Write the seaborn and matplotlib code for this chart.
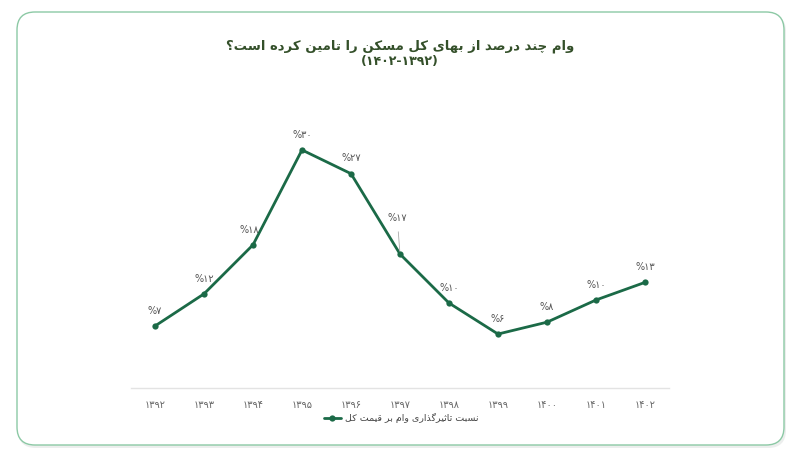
import matplotlib
matplotlib.use("Agg")
import matplotlib.pyplot as plt
import seaborn as sns
import pandas as pd
from matplotlib.patches import FancyBboxPatch

# ---------------- data ----------------
years = ["۱۳۹۲", "۱۳۹۳", "۱۳۹۴", "۱۳۹۵", "۱۳۹۶", "۱۳۹۷", "۱۳۹۸", "۱۳۹۹", "۱۴۰۰", "۱۴۰۱", "۱۴۰۲"]
values = [7.0, 11.2, 17.6, 30.0, 26.9, 16.4, 10.0, 5.95, 7.5, 10.4, 12.7]
value_labels = ["%۷", "%۱۲", "%۱۸", "%۳۰", "%۲۷", "%۱۷", "%۱۰", "%۶", "%۸", "%۱۰", "%۱۳"]
title_line1 = "وام چند درصد از بهای کل مسکن را تامین کرده است؟"
title_line2 = "(۱۴۰۲-۱۳۹۲)"
series_name = "نسبت تاثیرگذاری وام بر قیمت کل"

# ------------- simple Persian shaping (matplotlib has no text shaping) -------------
FORMS = {
    "ا": ("\uFE8D", "\uFE8E", None, None),
    "آ": ("\uFE81", "\uFE82", None, None),
    "ب": ("\uFE8F", "\uFE90", "\uFE91", "\uFE92"),
    "پ": ("\uFB56", "\uFB57", "\uFB58", "\uFB59"),
    "ت": ("\uFE95", "\uFE96", "\uFE97", "\uFE98"),
    "ث": ("\uFE99", "\uFE9A", "\uFE9B", "\uFE9C"),
    "ج": ("\uFE9D", "\uFE9E", "\uFE9F", "\uFEA0"),
    "چ": ("\uFB7A", "\uFB7B", "\uFB7C", "\uFB7D"),
    "ح": ("\uFEA1", "\uFEA2", "\uFEA3", "\uFEA4"),
    "خ": ("\uFEA5", "\uFEA6", "\uFEA7", "\uFEA8"),
    "د": ("\uFEA9", "\uFEAA", None, None),
    "ذ": ("\uFEAB", "\uFEAC", None, None),
    "ر": ("\uFEAD", "\uFEAE", None, None),
    "ز": ("\uFEAF", "\uFEB0", None, None),
    "ژ": ("\uFB8A", "\uFB8B", None, None),
    "س": ("\uFEB1", "\uFEB2", "\uFEB3", "\uFEB4"),
    "ش": ("\uFEB5", "\uFEB6", "\uFEB7", "\uFEB8"),
    "ص": ("\uFEB9", "\uFEBA", "\uFEBB", "\uFEBC"),
    "ض": ("\uFEBD", "\uFEBE", "\uFEBF", "\uFEC0"),
    "ط": ("\uFEC1", "\uFEC2", "\uFEC3", "\uFEC4"),
    "ظ": ("\uFEC5", "\uFEC6", "\uFEC7", "\uFEC8"),
    "ع": ("\uFEC9", "\uFECA", "\uFECB", "\uFECC"),
    "غ": ("\uFECD", "\uFECE", "\uFECF", "\uFED0"),
    "ف": ("\uFED1", "\uFED2", "\uFED3", "\uFED4"),
    "ق": ("\uFED5", "\uFED6", "\uFED7", "\uFED8"),
    "ک": ("\uFB8E", "\uFB8F", "\uFB90", "\uFB91"),
    "گ": ("\uFB92", "\uFB93", "\uFB94", "\uFB95"),
    "ل": ("\uFEDD", "\uFEDE", "\uFEDF", "\uFEE0"),
    "م": ("\uFEE1", "\uFEE2", "\uFEE3", "\uFEE4"),
    "ن": ("\uFEE5", "\uFEE6", "\uFEE7", "\uFEE8"),
    "و": ("\uFEED", "\uFEEE", None, None),
    "ه": ("\uFEE9", "\uFEEA", "\uFEEB", "\uFEEC"),
    "ی": ("\uFBFC", "\uFBFD", "\uFBFE", "\uFBFF"),
}


def shape(text):
    out = []
    n = len(text)
    i = 0
    while i < n:
        c = text[i]
        if c not in FORMS:
            out.append(c)
            i += 1
            continue
        prev = text[i - 1] if i > 0 else ""
        joins_prev = prev in FORMS and FORMS[prev][2] is not None
        if c == "ل" and i + 1 < n and text[i + 1] == "ا":
            out.append("\uFEFC" if joins_prev else "\uFEFB")
            i += 2
            continue
        nxt = text[i + 1] if i + 1 < n else ""
        dual = FORMS[c][2] is not None
        joins_next = dual and nxt in FORMS
        iso, fin, ini, med = FORMS[c]
        if joins_prev and joins_next:
            out.append(med)
        elif joins_prev:
            out.append(fin)
        elif joins_next:
            out.append(ini)
        else:
            out.append(iso)
        i += 1
    return "".join(out)[::-1]


# ---------------- figure ----------------
sns.set_theme(style="white")
plt.rcParams["font.family"] = ["DejaVu Sans"]

W, H = 800, 459
fig = plt.figure(figsize=(W / 100, H / 100), dpi=100)
fig.patch.set_facecolor("white")

# background card
bg = fig.add_axes([0, 0, 1, 1])
bg.set_xlim(0, W)
bg.set_ylim(H, 0)
bg.axis("off")
shadow = FancyBboxPatch((18, 14), 768, 434, boxstyle="round,pad=0,rounding_size=18",
                        facecolor="#eceeed", edgecolor="none", zorder=0)
bg.add_patch(shadow)
card = FancyBboxPatch((17, 12), 767, 433, boxstyle="round,pad=0,rounding_size=18",
                      facecolor="white", edgecolor="#8cc9a5", linewidth=1.0, zorder=1)
bg.add_patch(card)

title_color = "#34502a"
bg.text(400, 46, shape(title_line1), ha="center", va="center", fontsize=9.5,
        fontweight="bold", color=title_color, zorder=3)
bg.text(400, 62, title_line2, ha="center", va="center", fontsize=9,
        fontweight="bold", color=title_color, zorder=3)

# main plot axes (pixel-positioned)
left_px, right_px = 130.5, 669.5
top_px, bottom_px = 127, 388
ax = fig.add_axes([left_px / W, (H - bottom_px) / H, (right_px - left_px) / W, (bottom_px - top_px) / H])
ax.patch.set_alpha(0)

df = pd.DataFrame({"year": years, "x": range(len(years)), "value": values})
line_color = "#1b6a47"
sns.lineplot(data=df, x="x", y="value", ax=ax, color=line_color, linewidth=2,
             marker="o", markersize=4.5, markeredgewidth=0, label=shape(series_name),
             legend=False)

ax.set_xlim(-0.5, len(years) - 0.5)
ax.set_ylim(-1.1, 33)
ax.set_xticks(range(len(years)))
ax.set_xticklabels(years, fontsize=7, color="#666666")
ax.set_yticks([])
ax.set_xlabel("")
ax.set_ylabel("")
ax.tick_params(axis="x", length=0, pad=9)
for s in ["top", "left", "right"]:
    ax.spines[s].set_visible(False)
ax.spines["bottom"].set_color("#e3e3e3")
ax.spines["bottom"].set_linewidth(1)

# value labels
offsets = {2: (-3, 11)}
for i, (v, lab) in enumerate(zip(values, value_labels)):
    if i == 5:
        ax.annotate(lab, xy=(i, v), xytext=(-2, 26), textcoords="offset points",
                    ha="center", va="center", fontsize=7, color="#555555",
                    arrowprops=dict(arrowstyle="-", color="#aaaaaa", lw=0.6,
                                    shrinkA=4, shrinkB=2))
    else:
        ax.annotate(lab, xy=(i, v), xytext=offsets.get(i, (0, 11)), textcoords="offset points",
                    ha="center", va="center", fontsize=7, color="#555555")

# legend
handles, labels = ax.get_legend_handles_labels()
leg = fig.legend(handles, labels, loc="center", bbox_to_anchor=(401 / W, 1 - 418 / H),
                 frameon=False, fontsize=6.8, handlelength=1.8, handletextpad=0.4,
                 labelcolor="#444444")

fig.savefig("out.png", dpi=100, facecolor="white")
